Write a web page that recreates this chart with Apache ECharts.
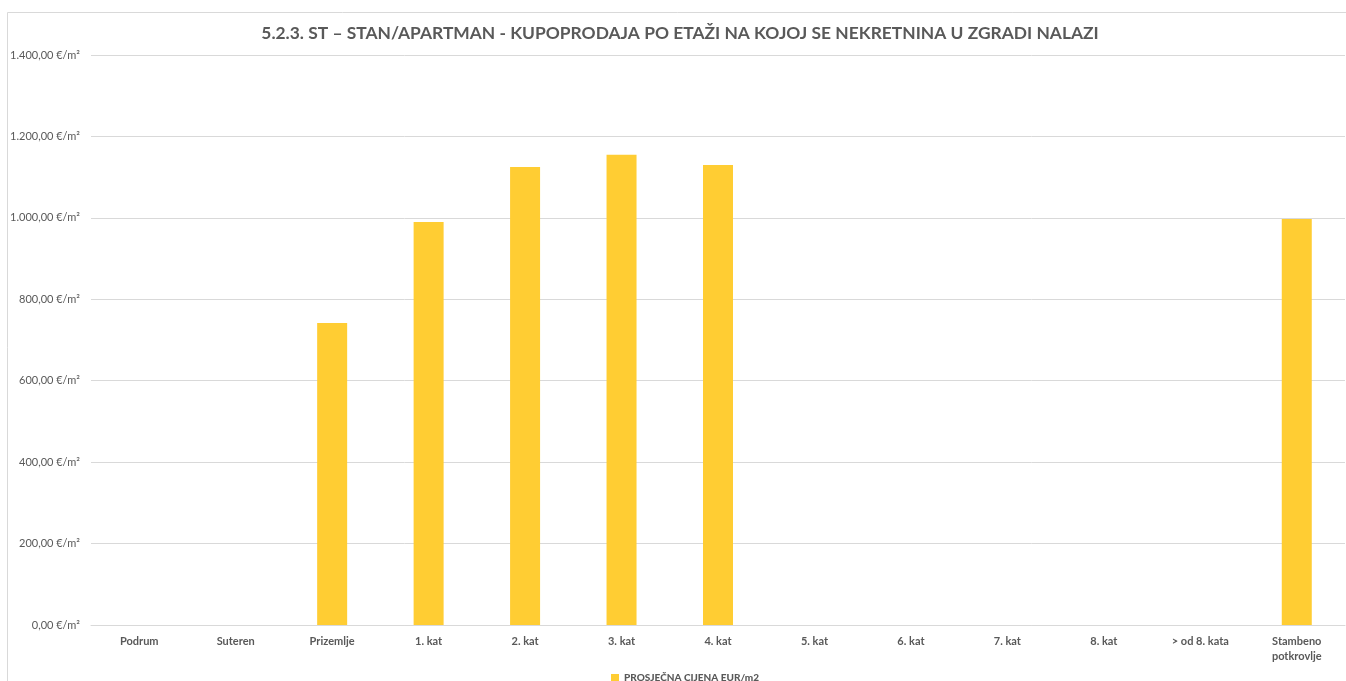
<!DOCTYPE html>
<html>
<head>
<meta charset="utf-8">
<script src="https://cdn.jsdelivr.net/npm/echarts@6/dist/echarts.min.js"></script>
<style>
  html, body { margin: 0; padding: 0; background: #fff; }
  #chart { width: 1346px; height: 681px; }
</style>
</head>
<body>
<div id="chart"></div>
<script>
var categories = ['Podrum', 'Suteren', 'Prizemlje', '1. kat', '2. kat', '3. kat', '4. kat',
  '5. kat', '6. kat', '7. kat', '8. kat', '> od 8. kata', 'Stambeno\npotkrovlje'];
var prices = [null, null, 742, 990, 1125, 1155, 1130, null, null, null, null, null, 997];
var seriesName = 'PROSJEČNA CIJENA EUR/m2';
var chartTitle = '5.2.3. ST – STAN/APARTMAN - KUPOPRODAJA PO ETAŽI NA KOJOJ SE NEKRETNINA U ZGRADI NALAZI';

var fontFamily = 'Lato, "Open Sans", sans-serif';
var textColor = '#595959';

function formatEur(v) {
  var parts = v.toFixed(2).split('.');
  var intPart = parts[0].replace(/\B(?=(\d{3})+(?!\d))/g, '.');
  return intPart + ',' + parts[1] + ' €/m²';
}

var chart = echarts.init(document.getElementById('chart'));
chart.setOption({
  backgroundColor: '#fff',
  animation: false,
  title: {
    text: chartTitle,
    left: 675,
    top: 20,
    textAlign: 'center',
    textStyle: { fontFamily: fontFamily, fontSize: 17.4, fontWeight: 'bold', color: textColor }
  },
  graphic: [{
    type: 'rect',
    shape: { x: 7.5, y: 12.5, width: 1360, height: 700 },
    style: { fill: 'none', stroke: '#D9D9D9', lineWidth: 1 },
    silent: true
  }],
  legend: {
    data: [seriesName],
    top: 668,
    left: 606,
    itemWidth: 8,
    itemHeight: 8,
    itemGap: 4,
    icon: 'rect',
    textStyle: { fontFamily: fontFamily, fontSize: 10, fontWeight: 900, color: textColor }
  },
  grid: { left: 91, right: 1, top: 55, bottom: 56, containLabel: false },
  xAxis: {
    type: 'category',
    data: categories,
    axisLine: { lineStyle: { color: '#D9D9D9', width: 1 } },
    axisTick: { show: false },
    axisLabel: {
      interval: 0, margin: 9,
      fontFamily: fontFamily, fontSize: 11, fontWeight: 'bold', color: textColor,
      lineHeight: 15
    }
  },
  yAxis: {
    type: 'value',
    min: 0, max: 1400, interval: 200,
    axisLine: { show: false },
    axisTick: { show: false },
    splitLine: { lineStyle: { color: '#D9D9D9', width: 1 } },
    axisLabel: {
      margin: 11,
      fontFamily: fontFamily, fontSize: 11, color: textColor,
      formatter: formatEur
    }
  },
  series: [{
    name: seriesName,
    type: 'bar',
    data: prices,
    barWidth: 30,
    itemStyle: { color: '#FFCD33' }
  }]
});
</script>
</body>
</html>
